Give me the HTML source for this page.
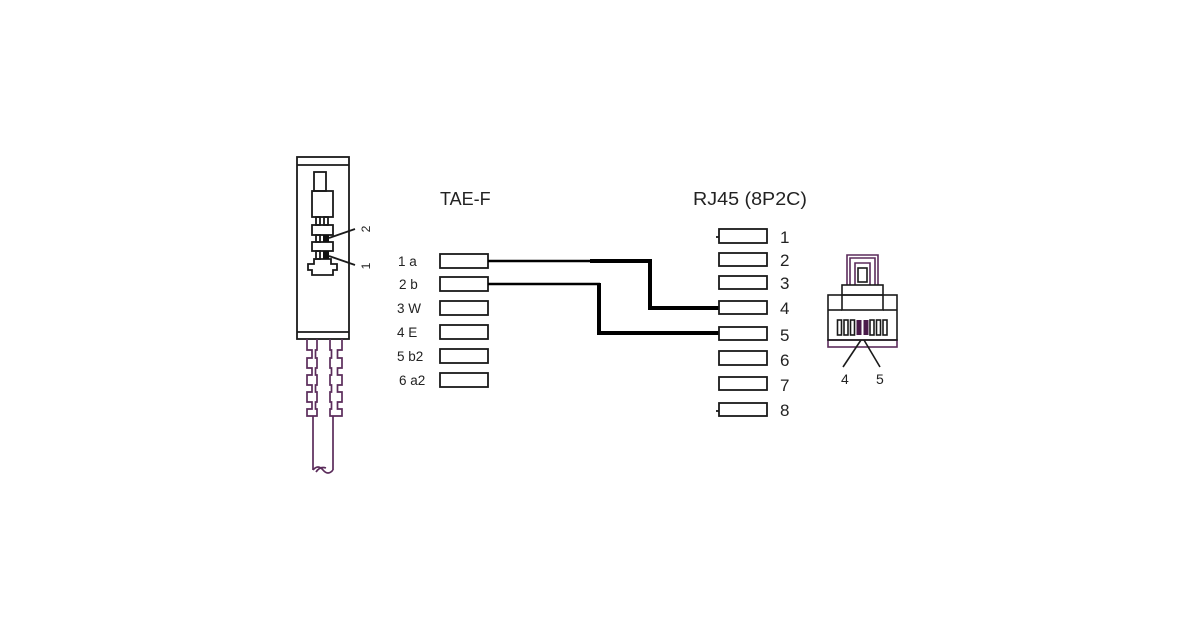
<!DOCTYPE html>
<html><head><meta charset="utf-8"><style>
html,body{margin:0;padding:0;background:#fff;}
svg{display:block;}
text{font-family:"Liberation Sans",Arial,sans-serif;fill:#222;}
</style></head><body>
<svg width="1200" height="630" viewBox="0 0 1200 630" xmlns="http://www.w3.org/2000/svg">
<rect width="1200" height="630" fill="#fff"/>

<!-- TAE connector body -->
<g fill="none" stroke="#1a1a1a" stroke-width="1.8">
  <rect x="297" y="157" width="52" height="182"/>
  <line x1="297" y1="165" x2="349" y2="165"/>
  <line x1="297" y1="332" x2="349" y2="332"/>
  <!-- plug inner -->
  <rect x="314" y="172" width="12" height="19"/>
  <rect x="312" y="191" width="21" height="26"/>
  <rect x="316" y="217" width="4" height="8"/>
  <rect x="324" y="217" width="4" height="8"/>
  <rect x="312" y="225" width="21" height="10"/>
  <rect x="316" y="235" width="4" height="7"/>
  <rect x="312" y="242" width="21" height="9"/>
  <rect x="316" y="251" width="4" height="8"/>
  <path d="M314,259 H331 V264 H337 V270 H333 V275 H312 V270 H308 V264 H314 Z"/>
  <line x1="329" y1="238" x2="355" y2="229"/>
  <line x1="329" y1="256" x2="355" y2="265"/>
</g>
<rect x="323" y="235" width="6" height="7" fill="#111"/>
<rect x="323" y="251" width="6" height="8" fill="#111"/>
<text x="0" y="0" font-size="12" transform="translate(370,229) rotate(-90)" text-anchor="middle">2</text>
<text x="0" y="0" font-size="12" transform="translate(370,266) rotate(-90)" text-anchor="middle">1</text>

<!-- strain relief & cable (purple) -->
<g fill="none" stroke="#5b2c5b" stroke-width="1.7">
  <path d="M307,339 V350 H312 V358 H307 V368 H312 V375 H307 V385 H312 V392 H307 V402 H312 V409 H307 V416 H317 V409 H315.5 V402 H317 V392 H315.5 V385 H317 V375 H315.5 V368 H317 V358 H315.5 V350 H317 V339"/>
  <path d="M342,339 V350 H337.5 V358 H342 V368 H337.5 V375 H342 V385 H337.5 V392 H342 V402 H337.5 V409 H342 V416 H330 V409 H331.5 V402 H330 V392 H331.5 V385 H330 V375 H331.5 V368 H330 V358 H331.5 V350 H330 V339"/>
  <path d="M313,416 V470 M333,416 V470"/>
  <path d="M313,470 Q318,464 323,470 Q328,476 333,470"/>
  <path d="M316,472 Q320,466 326,468"/>
</g>

<!-- TAE-F -->
<text x="440" y="205" font-size="18">TAE-F</text>
<g fill="none" stroke="#1a1a1a" stroke-width="1.8">
  <rect x="440" y="254" width="48" height="14"/>
  <rect x="440" y="277" width="48" height="14"/>
  <rect x="440" y="301" width="48" height="14"/>
  <rect x="440" y="325" width="48" height="14"/>
  <rect x="440" y="349" width="48" height="14"/>
  <rect x="440" y="373" width="48" height="14"/>
</g>
<g font-size="13.5">
  <text x="398" y="266">1 a</text>
  <text x="399" y="289">2 b</text>
  <text x="397" y="313">3 W</text>
  <text x="397" y="337">4 E</text>
  <text x="397" y="361">5 b2</text>
  <text x="399" y="385">6 a2</text>
</g>

<!-- wires -->
<g fill="none" stroke="#000" stroke-linejoin="miter">
  <line x1="488" y1="261" x2="591" y2="261" stroke-width="2.5"/>
  <polyline points="590,261 650,261 650,308 719,308" stroke-width="4"/>
  <line x1="488" y1="284" x2="600" y2="284" stroke-width="2.5"/>
  <polyline points="599,283 599,333 719,333" stroke-width="4"/>
</g>

<!-- RJ45 -->
<text x="693" y="205" font-size="18" textLength="114" lengthAdjust="spacingAndGlyphs">RJ45 (8P2C)</text>
<g fill="none" stroke="#1a1a1a" stroke-width="1.8">
  <rect x="719" y="229" width="48" height="14"/>
  <rect x="719" y="253" width="48" height="13"/>
  <rect x="719" y="276" width="48" height="13"/>
  <rect x="719" y="301" width="48" height="13"/>
  <rect x="719" y="327" width="48" height="13"/>
  <rect x="719" y="351" width="48" height="14"/>
  <rect x="719" y="377" width="48" height="13"/>
  <rect x="719" y="403" width="48" height="13"/>
  <line x1="716" y1="237" x2="719" y2="237"/>
  <line x1="716" y1="411" x2="719" y2="411"/>
</g>
<g font-size="17">
  <text x="780" y="243">1</text>
  <text x="780" y="266">2</text>
  <text x="780" y="289">3</text>
  <text x="780" y="314">4</text>
  <text x="780" y="341">5</text>
  <text x="780" y="366">6</text>
  <text x="780" y="391">7</text>
  <text x="780" y="416">8</text>
</g>

<!-- RJ45 plug -->
<g fill="none" stroke="#5b2c5b" stroke-width="1.6">
  <path d="M847,285 V255 H878 V285"/>
  <path d="M850,285 V258 H875 V285"/>
  <path d="M855,285 V263 H870 V285"/>
  <rect x="828" y="340" width="69" height="7"/>
</g>
<g fill="none" stroke="#1a1a1a" stroke-width="1.6">
  <rect x="858" y="268" width="9" height="14"/>
  <rect x="842" y="285" width="41" height="25"/>
  <rect x="828" y="295" width="69" height="45"/>
  <line x1="842" y1="295" x2="883" y2="295"/>
  <line x1="828" y1="310" x2="842" y2="310"/>
  <line x1="883" y1="310" x2="897" y2="310"/>
  <rect x="837.5" y="320" width="4" height="15"/>
  <rect x="844" y="320" width="4" height="15"/>
  <rect x="850.5" y="320" width="4" height="15"/>
  <rect x="870" y="320" width="4" height="15"/>
  <rect x="876.5" y="320" width="4" height="15"/>
  <rect x="883" y="320" width="4" height="15"/>
  <line x1="861" y1="340" x2="843" y2="367"/>
  <line x1="864" y1="340" x2="880" y2="367"/>
</g>
<rect x="856.5" y="320" width="5" height="15" fill="#4a1a4a"/>
<rect x="863.5" y="320" width="5" height="15" fill="#4a1a4a"/>
<g font-size="14">
  <text x="841" y="384">4</text>
  <text x="876" y="384">5</text>
</g>
</svg>
</body></html>
